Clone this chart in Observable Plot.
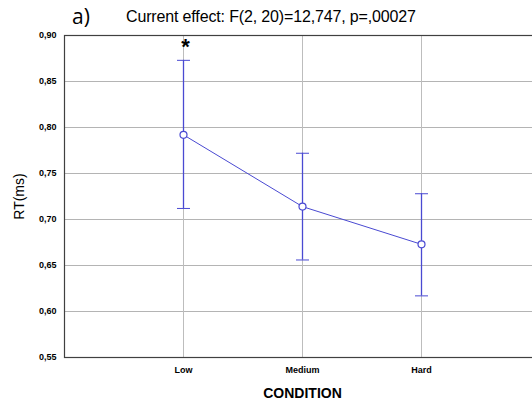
<!DOCTYPE html>
<html><head><meta charset="utf-8">
<script src="https://cdn.jsdelivr.net/npm/d3@7"></script>
<script src="https://cdn.jsdelivr.net/npm/@observablehq/plot@0.6"></script>
<style>
html,body{margin:0;padding:0;background:#fff;overflow:hidden;width:532px;height:402px;}
#wrap{position:relative;width:532px;height:402px;}
#chart svg{max-width:none !important;display:block;}
#chart{position:absolute;left:0;top:0;}
.t1{position:absolute;left:72px;top:2px;font:21px "Open Sans",sans-serif;line-height:normal;color:#000;}
.t2{position:absolute;left:126px;top:8px;font:16px/18px "Liberation Sans",Arial,sans-serif;letter-spacing:-0.15px;color:#000;}
</style></head>
<body><div id="wrap"><div id="chart"></div>
<div class="t1">a)</div>
<div class="t2">Current effect: F(2, 20)=12,747, p=,00027</div>
</div>
<script>
const categories = ["Low", "Medium", "Hard"];
const means = [0.792, 0.714, 0.673];
const upper = [0.873, 0.772, 0.728];
const lower = [0.712, 0.656, 0.617];
const yTicks = [0.55, 0.60, 0.65, 0.70, 0.75, 0.80, 0.85, 0.90];
const marks = [{cond: "Low", label: "*"}];

const data = categories.map((c, i) => ({cond: c, mean: means[i], hi: upper[i], lo: lower[i]}));
const star = marks.map(m => ({...m, y: upper[categories.indexOf(m.cond)]}));
const blue = "#4a4ad2";
const fmt = d => d.toFixed(2).replace(".", ",");
const capSymbol = {draw(ctx) { ctx.moveTo(-6.5, 0); ctx.lineTo(6.5, 0); }};

const plot = Plot.plot({
  width: 540, height: 402,
  marginLeft: 64, marginRight: 0, marginTop: 35, marginBottom: 45,
  style: {fontFamily: "'Liberation Sans', Arial, sans-serif", background: "#fff"},
  x: {type: "point", domain: categories, padding: 1, label: null},
  y: {domain: [0.55, 0.90], ticks: yTicks, label: null},
  marks: [
    Plot.ruleY(yTicks.slice(1, -1), {stroke: "#b4b4b4", strokeWidth: 1, strokeOpacity: 1}),
    Plot.ruleX(categories, {stroke: "#bdbdbd", strokeWidth: 1, strokeOpacity: 1}),
    Plot.frame({stroke: "#404040", strokeWidth: 1.2}),
    Plot.ruleX(data, {x: "cond", y1: "lo", y2: "hi", stroke: blue, strokeWidth: 1.3, strokeOpacity: 1}),
    Plot.dot(data, {x: "cond", y: "hi", symbol: capSymbol, stroke: blue, strokeWidth: 1, fill: "none"}),
    Plot.dot(data, {x: "cond", y: "lo", symbol: capSymbol, stroke: blue, strokeWidth: 1, fill: "none"}),
    Plot.line(data, {x: "cond", y: "mean", stroke: blue, strokeWidth: 1}),
    Plot.dot(data, {x: "cond", y: "mean", r: 3.5, fill: "white", stroke: blue, strokeWidth: 1.2}),
    Plot.text(star, {x: "cond", y: "y", text: "label", dy: -13, dx: 2, fontSize: 22, fontWeight: "bold", fill: "#000"}),
    Plot.axisY({ticks: yTicks, tickFormat: fmt, tickSize: 0, tickPadding: 8, fontSize: 9, fontWeight: "bold", label: "RT(ms)", labelAnchor: "center", labelArrow: "none", labelOffset: 50}),
    Plot.axisX({tickSize: 0, tickPadding: 9, fontSize: 9, fontWeight: "bold", label: "CONDITION", labelAnchor: "center", labelArrow: "none", labelOffset: 40})
  ]
});
document.getElementById("chart").appendChild(plot);
plot.querySelectorAll("[aria-label='y-axis label'] text, [aria-label='x-axis label'] text").forEach(t => {
  t.setAttribute("font-size", 14);
});
plot.querySelectorAll("[aria-label='y-axis label'] text").forEach(t => t.setAttribute("font-weight", "normal"));
plot.querySelectorAll("[aria-label='y-axis label']").forEach(g => g.setAttribute("font-weight", "normal"));
plot.querySelectorAll("[aria-label='x-axis label'] text").forEach(t => t.setAttribute("font-weight", "bold"));
</script>
</body></html>
